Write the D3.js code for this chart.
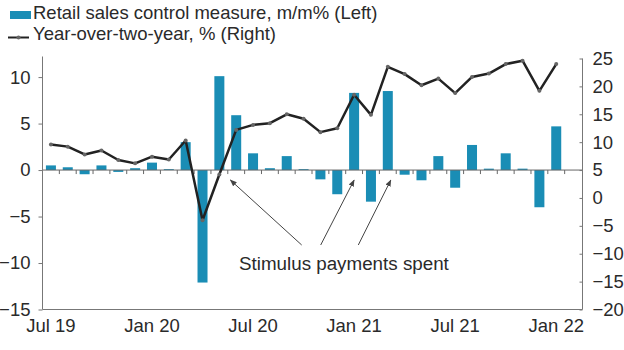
<!DOCTYPE html>
<html>
<head>
<meta charset="utf-8">
<script src="https://cdn.jsdelivr.net/npm/d3@7"></script>
<style>
  html, body { margin: 0; padding: 0; background: #fff; }
  svg { display: block; }
  text { font-family: "Liberation Sans", Arial, sans-serif; fill: #2a2a2a; }
</style>
</head>
<body>
<svg id="chart" width="624" height="350"></svg>
<script>
// ---- data ----
const months = ["Jul 19","Aug 19","Sep 19","Oct 19","Nov 19","Dec 19",
  "Jan 20","Feb 20","Mar 20","Apr 20","May 20","Jun 20","Jul 20","Aug 20","Sep 20","Oct 20","Nov 20","Dec 20",
  "Jan 21","Feb 21","Mar 21","Apr 21","May 21","Jun 21","Jul 21","Aug 21","Sep 21","Oct 21","Nov 21","Dec 21",
  "Jan 22","Feb 22"];
const retailMoM = [0.5, 0.3, -0.45, 0.5, -0.2, 0.2, 0.8, 0.1, 3.0, -12.1, 10.1, 5.9, 1.8, 0.2, 1.5, 0.1, -1.0, -2.6,
  8.3, -3.4, 8.5, -0.5, -1.1, 1.5, -1.9, 2.7, 0.15, 1.8, 0.15, -4.0, 4.7];
const yoy2 = [9.6, 9.2, 7.8, 8.5, 6.8, 6.2, 7.4, 6.9, 10.3, -4.0, 4.2, 12.2, 13.1, 13.4, 15.0, 14.2, 11.8, 12.5,
  18.5, 14.9, 23.5, 22.2, 20.2, 21.4, 18.8, 21.7, 22.3, 24.0, 24.6, 19.2, 24.0];
const xTickLabels = ["Jul 19","Jan 20","Jul 20","Jan 21","Jul 21","Jan 22"];
const leftTicks = [10, 5, 0, -5, -10, -15];
const rightTicks = [25, 20, 15, 10, 5, 0, -5, -10, -15, -20];
const legendLabels = ["Retail sales control measure, m/m% (Left)", "Year-over-two-year, % (Right)"];
const annotationText = "Stimulus payments spent";
const annotationMonths = ["May 20", "Jan 21", "Mar 21"];

// ---- layout ----
const svg = d3.select("#chart");
const L = 42.5, R = 582.5, T = 58.5, B = 309.5;
const barColor = "#1a8db5";
const lineColor = "#222";
const axisColor = "#777";
const fontFam = '"Liberation Sans", Arial, sans-serif';

const x = d3.scaleBand().domain(months).range([L, 581.5]).paddingInner(0.4).paddingOuter(0.2);
const yL = d3.scaleLinear().domain([-15, 12]).range([B, T]);
const yR = d3.scaleLinear().domain([-20, 25]).range([B, T]);

const step = x.step();
const center = m => x(m) + x.bandwidth() / 2;

// bars
svg.append("g").selectAll("rect").data(retailMoM).join("rect")
  .attr("x", (d, i) => center(months[i]) - 5)
  .attr("width", 10)
  .attr("y", d => yL(Math.max(0, d)))
  .attr("height", d => Math.abs(yL(d) - yL(0)))
  .attr("fill", barColor);

// zero line with month ticks
const y0 = yL(0);
svg.append("line").attr("x1", L).attr("x2", R).attr("y1", y0).attr("y2", y0)
  .attr("stroke", "#666").attr("stroke-width", 1);
svg.append("g").selectAll("line").data(months.slice(0, 31)).join("line")
  .attr("x1", (m) => center(m) + step / 2).attr("x2", (m) => center(m) + step / 2)
  .attr("y1", y0).attr("y2", y0 + 4)
  .attr("stroke", "#666").attr("stroke-width", 1);

// left axis
const gL = svg.append("g").attr("transform", `translate(${L},0)`)
  .call(d3.axisLeft(yL).tickValues(leftTicks).tickSize(4).tickPadding(8).tickFormat(d3.format("d")));
gL.select(".domain").remove();
gL.selectAll(".tick line").attr("stroke", axisColor);
gL.selectAll(".tick text").attr("font-size", 18.5).attr("fill", "#2a2a2a").style("font-family", fontFam);
svg.append("line").attr("x1", L).attr("x2", L).attr("y1", T - 2).attr("y2", B).attr("stroke", axisColor);

// right axis
const gR = svg.append("g").attr("transform", `translate(${R},0)`)
  .call(d3.axisRight(yR).tickValues(rightTicks).tickSize(-3).tickPadding(10).tickFormat(d3.format("d")));
gR.select(".domain").remove();
gR.selectAll(".tick line").attr("stroke", axisColor);
gR.selectAll(".tick text").attr("font-size", 18.5).attr("fill", "#2a2a2a").style("font-family", fontFam);
svg.append("line").attr("x1", R).attr("x2", R).attr("y1", T).attr("y2", B).attr("stroke", axisColor);

// bottom frame line
svg.append("line").attr("x1", L).attr("x2", R).attr("y1", B).attr("y2", B).attr("stroke", axisColor);

// x labels
svg.append("g").selectAll("text").data(xTickLabels).join("text")
  .attr("x", m => center(m)).attr("y", 332)
  .attr("text-anchor", "middle").attr("font-size", 18.5)
  .text(d => d);

// line series
const line = d3.line().x((d, i) => center(months[i])).y(d => yR(d));
svg.append("path").datum(yoy2).attr("d", line)
  .attr("fill", "none").attr("stroke", lineColor).attr("stroke-width", 2.5)
  .attr("stroke-linejoin", "round");
svg.append("g").selectAll("circle").data(yoy2).join("circle")
  .attr("cx", (d, i) => center(months[i])).attr("cy", d => yR(d)).attr("r", 2)
  .attr("fill", "#666");

// annotation
const defs = svg.append("defs");
defs.append("marker").attr("id", "arr").attr("viewBox", "0 0 10 10")
  .attr("refX", 9).attr("refY", 5).attr("markerWidth", 7).attr("markerHeight", 7)
  .attr("orient", "auto-start-reverse").attr("markerUnits", "userSpaceOnUse")
  .append("path").attr("d", "M0,1 L10,5 L0,9 Z").attr("fill", "#444");

const arrows = [
  { m: annotationMonths[0], dx: 11, sx: 301.7 },
  { m: annotationMonths[1], dx: 0, sx: 320.7 },
  { m: annotationMonths[2], dx: 3, sx: 358.3 }
];
svg.append("g").selectAll("line").data(arrows).join("line")
  .attr("x1", d => d.sx).attr("y1", 245)
  .attr("x2", d => center(d.m) + d.dx).attr("y2", y0 + 10)
  .attr("stroke", "#444").attr("stroke-width", 1)
  .attr("marker-end", "url(#arr)");

svg.append("text").attr("x", 239).attr("y", 270).attr("font-size", 18.8)
  .text(annotationText);

// legend
svg.append("rect").attr("x", 10).attr("y", 11).attr("width", 21).attr("height", 8).attr("fill", barColor);
svg.append("text").attr("x", 33).attr("y", 18.5).attr("font-size", 18.5).text(legendLabels[0]);
svg.append("line").attr("x1", 8).attr("x2", 29).attr("y1", 37.5).attr("y2", 37.5)
  .attr("stroke", lineColor).attr("stroke-width", 2);
svg.append("circle").attr("cx", 18.5).attr("cy", 37.5).attr("r", 2).attr("fill", "#666");
svg.append("text").attr("x", 33).attr("y", 39.5).attr("font-size", 18.5).text(legendLabels[1]);
</script>
</body>
</html>
